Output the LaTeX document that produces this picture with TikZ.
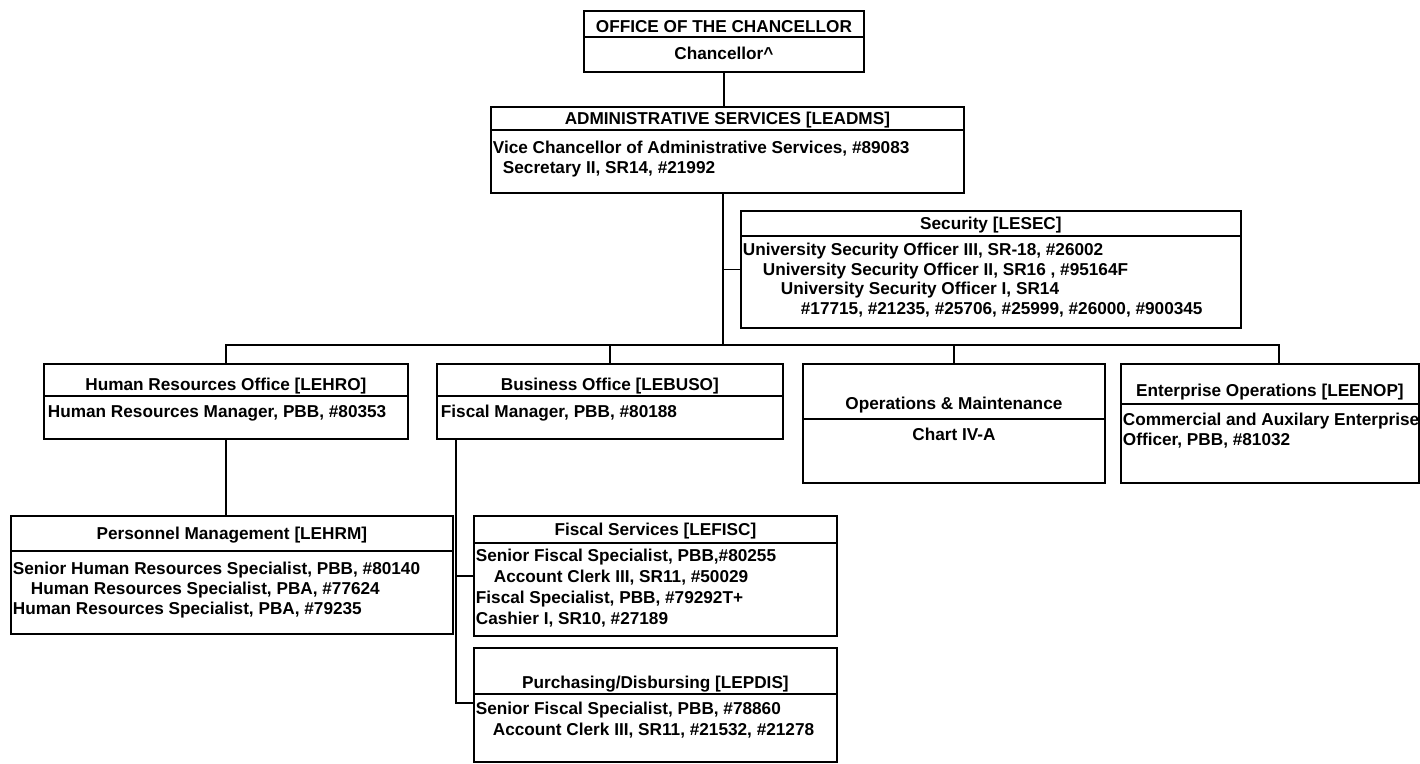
\documentclass[tikz,border=0pt]{standalone}
\usepackage{fontspec}
\setmainfont{Liberation Sans}
\usetikzlibrary{positioning}

\begin{document}
\begin{tikzpicture}[x=1pt,y=-1pt,line width=1.8pt,font=\bfseries\fontsize{17.2}{20}\selectfont]
    \tikzstyle{unit}=[draw,rectangle,anchor=north west,inner sep=0pt]
    \tikzstyle{head}=[anchor=base,inner sep=0pt]
    \tikzstyle{staff}=[anchor=base west,inner sep=0pt]
    \useasboundingbox (0,0) rectangle (1420,763);

    % boxes
    \node[unit,minimum width=280pt,minimum height=61pt] (CHAN) at (583,10) {};
    \node[unit,minimum width=473pt,minimum height=86pt] (ADM) at (490,106) {};
    \node[unit,minimum width=500pt,minimum height=117pt] (SEC) at (740,210) {};
    \node[unit,minimum width=364pt,minimum height=75pt] (HRO) at (43,363) {};
    \node[unit,minimum width=346pt,minimum height=75pt] (BUSO) at (436,363) {};
    \node[unit,minimum width=302pt,minimum height=119pt] (OM) at (802,363) {};
    \node[unit,minimum width=298pt,minimum height=119pt] (ENOP) at (1120,363) {};
    \node[unit,minimum width=442pt,minimum height=118pt] (HRM) at (10,515) {};
    \node[unit,minimum width=363pt,minimum height=120pt] (FISC) at (473,515) {};
    \node[unit,minimum width=363pt,minimum height=114pt] (PDIS) at (473,647) {};

    % rules under the titles
    \foreach \u/\y in {CHAN/37,ADM/130,SEC/236,HRO/396,BUSO/396,OM/419,ENOP/404,HRM/551,FISC/543,PDIS/694}
    \draw (\u.west |- 0,\y) -- (\u.east |- 0,\y);

    % titles
    \node[head] at (CHAN.north |- 0,32) {OFFICE OF THE CHANCELLOR};
    \node[head] at (CHAN.north |- 0,59) {Chancellor\textasciicircum};
    \node[head] at (ADM.north |- 0,124.5) {ADMINISTRATIVE SERVICES [LEADMS]};
    \node[head] at (SEC.north |- 0,229.5) {Security [LESEC]};
    \node[head] at (HRO.north |- 0,390.5) {Human Resources Office [LEHRO]};
    \node[head] at (BUSO.north |- 0,390.5) {Business Office [LEBUSO]};
    \node[head] at (OM.north |- 0,409.5) {Operations \& Maintenance};
    \node[head] at (OM.north |- 0,440.5) {Chart IV-A};
    \node[head] at (ENOP.north |- 0,396.5) {Enterprise Operations [LEENOP]};
    \node[head] at (HRM.north |- 0,539.5) {Personnel Management [LEHRM]};
    \node[head] at (FISC.north |- 0,535.5) {Fiscal Services [LEFISC]};
    \node[head] at (PDIS.north |- 0,688.5) {Purchasing/Disbursing [LEPDIS]};

    % staff lines
    \foreach \x/\y/\t in {
      492/153.5/{Vice Chancellor of Administrative Services, \#89083},
      502/173.5/{Secretary II, SR14, \#21992},
      742/255/{University Security Officer III, SR-18, \#26002},
      762/275/{University Security Officer II, SR16 , \#95164F},
      780/294/{University Security Officer I, SR14},
      800/314/{\#17715, \#21235, \#25706, \#25999, \#26000, \#900345},
      47/417.5/{Human Resources Manager, PBB, \#80353},
      440/417.5/{Fiscal Manager, PBB, \#80188},
      1122/425.5/{Commercial and Auxilary Enterprise},
      1122/445.5/{Officer, PBB, \#81032},
      12/574.5/{Senior Human Resources Specialist, PBB, \#80140},
      30/594.5/{Human Resources Specialist, PBA, \#77624},
      12/614.5/{Human Resources Specialist, PBA, \#79235},
      475/561.5/{Senior Fiscal Specialist, PBB,\#80255},
      493/582.5/{Account Clerk III, SR11, \#50029},
      475/603.5/{Fiscal Specialist, PBB, \#79292T+},
      475/624.5/{Cashier I, SR10, \#27189},
      475/714.5/{Senior Fiscal Specialist, PBB, \#78860},
      492/735.5/{Account Clerk III, SR11, \#21532, \#21278}}
    \node[staff] at (\x,\y) {\t};

    % connectors
    \coordinate (T) at (723,345);
    \coordinate (ET) at (1279,345);
    \coordinate (BT) at (456,703);
    \draw (CHAN.south) -- (CHAN.south |- ADM.north);
    \draw (ADM.south -| T) -- (T);
    \draw (SEC.west) -- (SEC.west -| T);
    \draw (HRO.north) |- (ET) -- (ET |- ENOP.north);
    \foreach \u in {BUSO,OM}
    \draw (\u.north) -- (\u.north |- T);
    \draw (HRO.south) -- (HRO.south |- HRM.north);
    \draw (BUSO.south -| BT) -- (BT) -- (BT -| PDIS.west);
    \draw (FISC.west) -- (FISC.west -| BT);
\end{tikzpicture}
\end{document}
